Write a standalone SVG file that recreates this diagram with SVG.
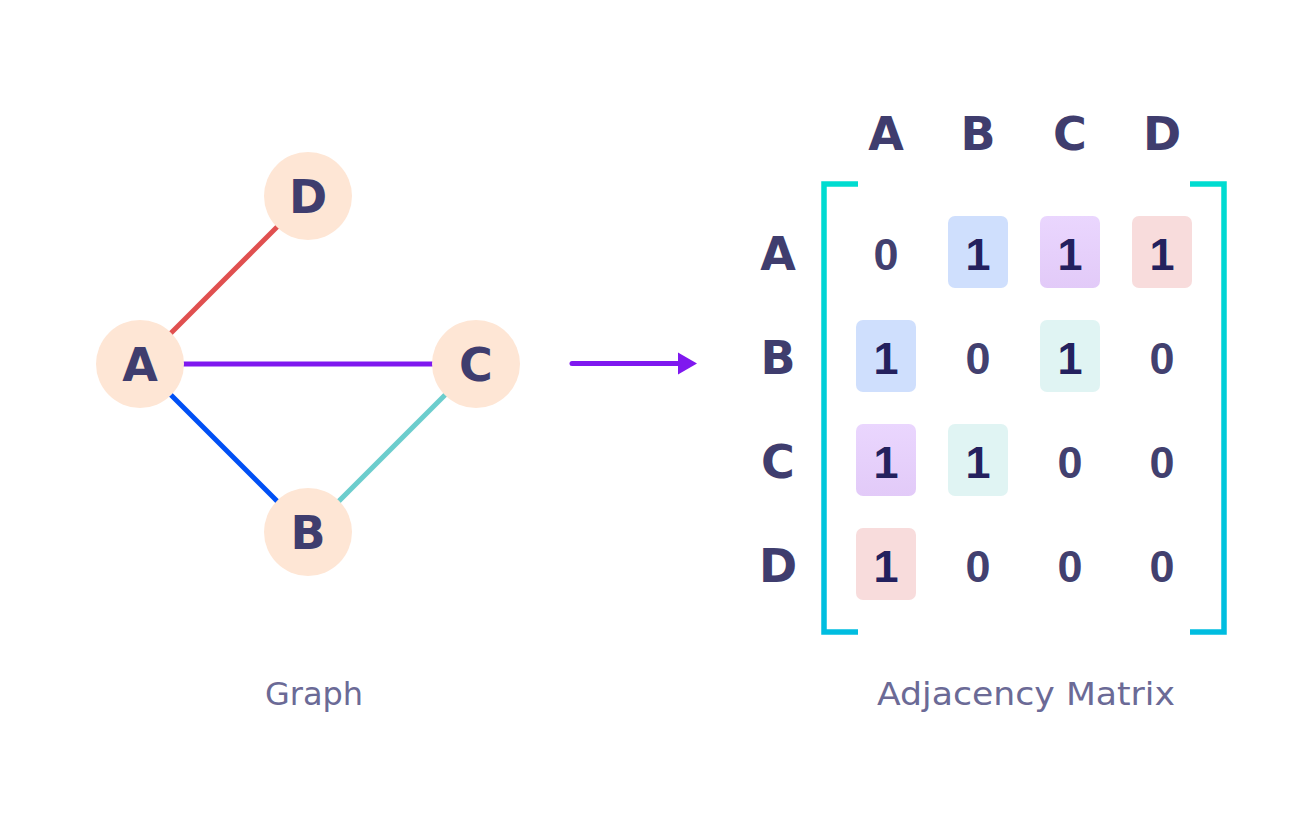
<svg xmlns="http://www.w3.org/2000/svg" width="1308" height="816" viewBox="0 0 1308 816">
<style>
.node circle{fill:#fee6d5}
.lt{font-family:"DejaVu Sans","Liberation Sans",sans-serif;font-weight:700;font-size:46px;fill:#3f3d6e;text-anchor:middle}
.d0{font-family:"Liberation Sans","DejaVu Sans",sans-serif;font-weight:700;font-size:45px;fill:#42406f;text-anchor:middle}
.d1{font-family:"Liberation Sans","DejaVu Sans",sans-serif;font-weight:700;font-size:45px;fill:#24215e;text-anchor:middle}
.cap{font-family:"DejaVu Sans","Liberation Sans",sans-serif;font-size:32px;fill:#6b6a96;text-anchor:middle}
.edge{stroke-width:5;fill:none}
</style>
<defs>
<linearGradient id="brk" x1="0" y1="0" x2="0" y2="1">
<stop offset="0" stop-color="#00dcd0"/>
<stop offset="1" stop-color="#00bde0"/>
</linearGradient>
<linearGradient id="purp" x1="0" y1="0" x2="0" y2="1">
<stop offset="0" stop-color="#ead6fe"/>
<stop offset="1" stop-color="#e2caf8"/>
</linearGradient>
</defs>
<rect width="1308" height="816" fill="#ffffff"/>
<g id="connectors">
<line class="edge" x1="140" y1="364" x2="308" y2="196" stroke="#e05050"/>
<line class="edge" x1="140" y1="364" x2="476" y2="364" stroke="#7f18ef"/>
<line class="edge" x1="140" y1="364" x2="308" y2="532" stroke="#0050f5"/>
<line class="edge" x1="476" y1="364" x2="308" y2="532" stroke="#6ccdcd"/>
<line x1="572" y1="363.5" x2="682" y2="363.5" stroke="#7f18ef" stroke-width="5" stroke-linecap="round"/>
<polygon points="678,352.5 697,363.5 678,374.5" fill="#7f18ef"/>
</g>
<g id="node-A" class="node"><circle cx="140" cy="364" r="44"/><text class="lt" x="140" y="381">A</text></g>
<g id="node-D" class="node"><circle cx="308" cy="196" r="44"/><text class="lt" x="308" y="213">D</text></g>
<g id="node-C" class="node"><circle cx="476" cy="364" r="44"/><text class="lt" x="476" y="381">C</text></g>
<g id="node-B" class="node"><circle cx="308" cy="532" r="44"/><text class="lt" x="308" y="549">B</text></g>
<text class="cap" x="314" y="705">Graph</text>
<g id="matrix">
<path d="M858,184 H824 V632 H858 M1190,184 H1224 V632 H1190" fill="none" stroke="url(#brk)" stroke-width="5.5"/>
<g id="headers">
<text class="lt" x="886" y="150">A</text>
<text class="lt" x="978" y="150">B</text>
<text class="lt" x="1070" y="150">C</text>
<text class="lt" x="1162" y="150">D</text>
<text class="lt" x="778" y="270">A</text>
<text class="lt" x="778" y="374">B</text>
<text class="lt" x="778" y="478">C</text>
<text class="lt" x="778" y="582">D</text>
</g>
<g id="cells">
<rect x="948" y="216" width="60" height="72" rx="7" fill="#cfdffd"/>
<rect x="1040" y="216" width="60" height="72" rx="7" fill="url(#purp)"/>
<rect x="1132" y="216" width="60" height="72" rx="7" fill="#f8dcdc"/>
<rect x="856" y="320" width="60" height="72" rx="7" fill="#cfdffd"/>
<rect x="1040" y="320" width="60" height="72" rx="7" fill="#e0f4f3"/>
<rect x="856" y="424" width="60" height="72" rx="7" fill="url(#purp)"/>
<rect x="948" y="424" width="60" height="72" rx="7" fill="#e0f4f3"/>
<rect x="856" y="528" width="60" height="72" rx="7" fill="#f8dcdc"/>
<text class="d0" x="886" y="270">0</text>
<text class="d1" x="978" y="270">1</text>
<text class="d1" x="1070" y="270">1</text>
<text class="d1" x="1162" y="270">1</text>
<text class="d1" x="886" y="374">1</text>
<text class="d0" x="978" y="374">0</text>
<text class="d1" x="1070" y="374">1</text>
<text class="d0" x="1162" y="374">0</text>
<text class="d1" x="886" y="478">1</text>
<text class="d1" x="978" y="478">1</text>
<text class="d0" x="1070" y="478">0</text>
<text class="d0" x="1162" y="478">0</text>
<text class="d1" x="886" y="582">1</text>
<text class="d0" x="978" y="582">0</text>
<text class="d0" x="1070" y="582">0</text>
<text class="d0" x="1162" y="582">0</text>
</g>
</g>
<text class="cap" x="1026" y="705" textLength="298" lengthAdjust="spacingAndGlyphs">Adjacency Matrix</text>
</svg>
